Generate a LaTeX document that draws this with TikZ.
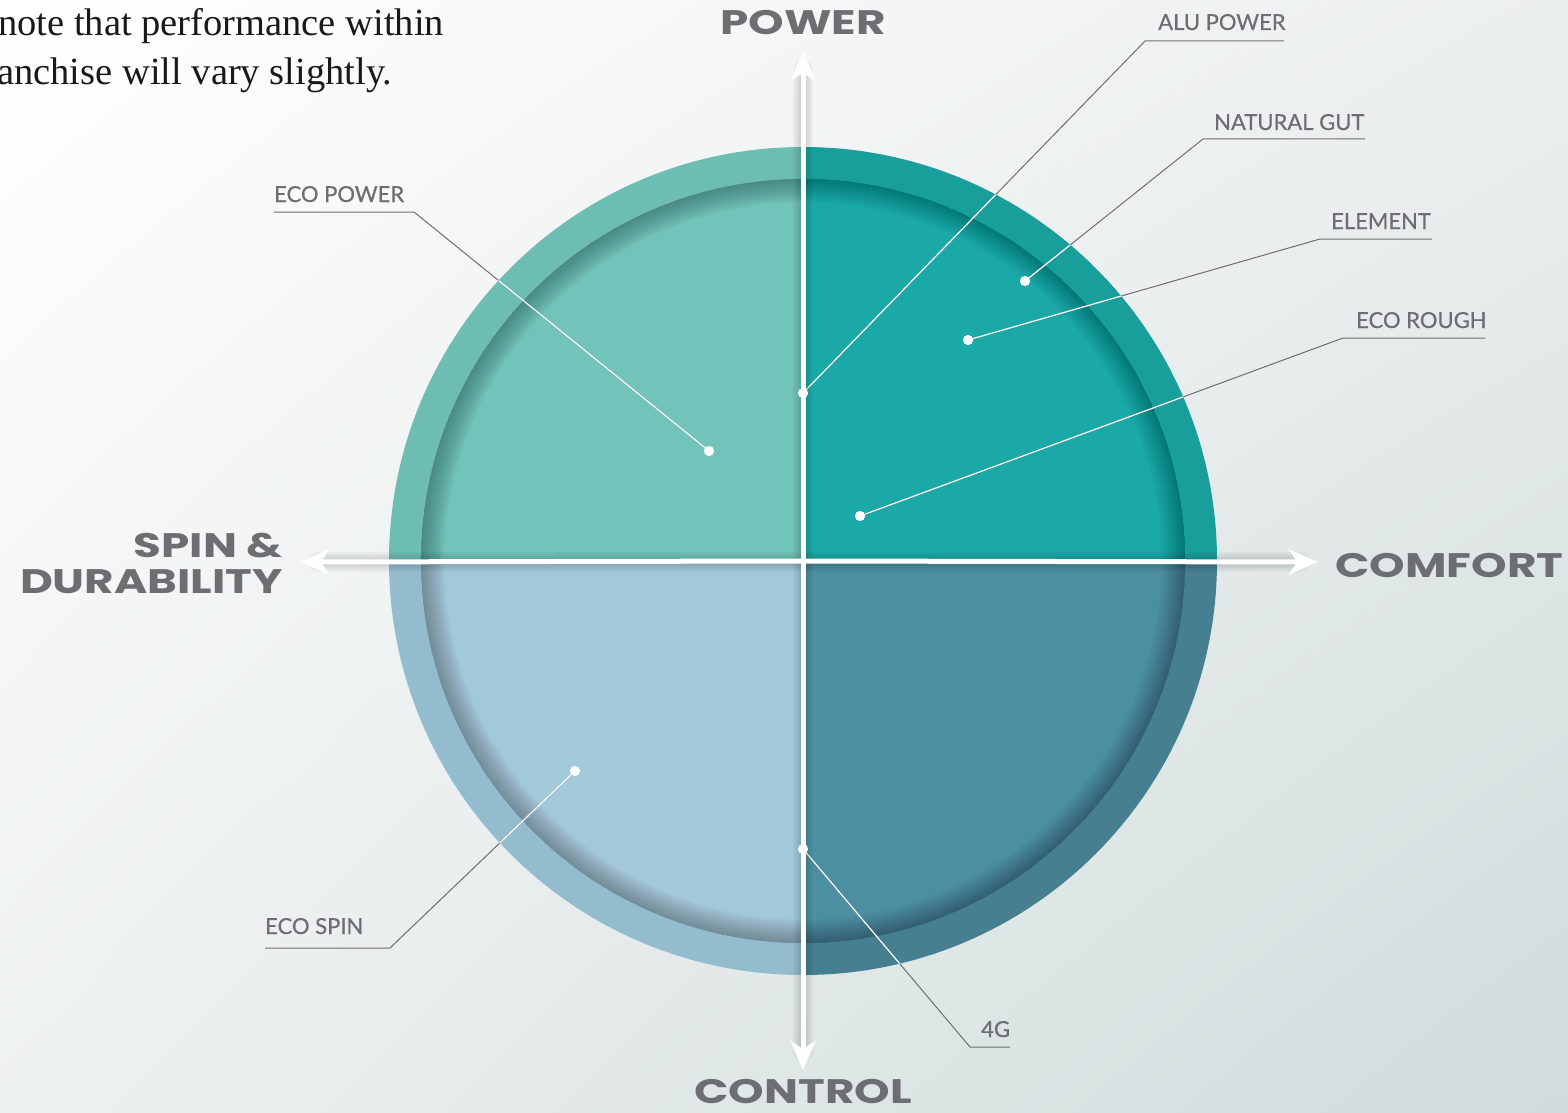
\documentclass[tikz,border=0pt]{standalone}
\usepackage{fontspec}
\setmainfont{Liberation Serif}
\newfontfamily\axisfont{Poppins}
\newfontfamily\labelfont{Lato}[FakeBold=0.6]
\usetikzlibrary{arrows.meta,shadings}
\definecolor{txtgray}{HTML}{6D6E71}
\definecolor{leadgray}{HTML}{6E6E70}
\definecolor{tlo}{HTML}{6DBDB2}
\definecolor{tli}{HTML}{72C3B9}
\definecolor{tro}{HTML}{189F9C}
\definecolor{tri}{HTML}{1BA9A8}
\definecolor{blo}{HTML}{94BCCF}
\definecolor{bli}{HTML}{A3C8DA}
\definecolor{bro}{HTML}{467F8F}
\definecolor{bri}{HTML}{4C8FA2}
\definecolor{bgtl}{HTML}{FFFFFF}
\definecolor{bgtr}{HTML}{ECEFEF}
\definecolor{bgbl}{HTML}{EEF1F1}
\definecolor{bgbr}{HTML}{D0DBDB}
\newcommand{\axtxt}[1]{\scalebox{1.33}[1]{#1}}
\tikzset{
  axislabel/.style={font=\axisfont\bfseries\fontsize{34}{36}\selectfont, text=txtgray, inner sep=0pt},
  smalllabel/.style={font=\labelfont\fontsize{22}{24}\selectfont, text=txtgray, inner sep=0pt, anchor=base west},
  introtext/.style={font=\fontsize{38.5}{50}\selectfont, text=black!90, inner sep=0pt, anchor=base west},
  leader/.style={draw=leadgray, line width=1pt},
  leaderin/.style={draw=white, line width=1.2pt},
  dotmark/.style={circle, fill=white, minimum size=10pt, inner sep=0pt},
  axisline/.style={draw=white, line width=5pt, -{Stealth[length=29pt, width=25pt, inset=8pt]}},
  axisshadow/.style={draw=black, draw opacity=0.035, line width=#1, line cap=round},
}
\begin{document}
\begin{tikzpicture}[x=1pt, y=-1pt]
\useasboundingbox (0,0) rectangle (1568,1113);
\shade[upper left=bgtl, upper right=bgtr, lower left=bgbl, lower right=bgbr] (0,0) rectangle (1568,1113);
% serif text (clipped on the left)
\begin{scope}
\clip (0,0) rectangle (1568,1113);
\node[introtext] (intro1) at (-2,36) {note that performance within};
\node[introtext] (intro2) at (-3,85) {anchise will vary slightly.};
\end{scope}
% centre
\coordinate (c) at (803,561);
% outer quadrants
\begin{scope}
\clip (c) circle (414pt);
\fill[tlo] (c) rectangle (380,140);
\fill[tro] (c) rectangle (1230,140);
\fill[blo] (c) rectangle (380,990);
\fill[bro] (c) rectangle (1230,990);
\end{scope}
% inner quadrants with inset shadow
\begin{scope}
\clip (c) circle (382pt);
\fill[tli] (c) rectangle (410,170);
\fill[tri] (c) rectangle (1200,170);
\fill[bli] (c) rectangle (410,960);
\fill[bri] (c) rectangle (1200,960);
\foreach \w in {2,4,...,48}{
  \draw[black, draw opacity=0.011, line width=\w pt] (c) circle (382pt);
}
\end{scope}
% leader coordinates and dots
\node[dotmark] (aluD) at (803,393) {};
\node[dotmark] (gutD) at (1025,281) {};
\node[dotmark] (eleD) at (968,340) {};
\node[dotmark] (rouD) at (860,516) {};
\node[dotmark] (epoD) at (709,451) {};
\node[dotmark] (spiD) at (575,771) {};
\node[dotmark] (fgD) at (803,849) {};
\coordinate (aluE) at (1145,41);  \coordinate (aluR) at (1284,41);
\coordinate (gutE) at (1203,139); \coordinate (gutR) at (1365,139);
\coordinate (eleE) at (1320,239); \coordinate (eleR) at (1432,239);
\coordinate (rouE) at (1343,338); \coordinate (rouR) at (1485,338);
\coordinate (epoE) at (414,212);  \coordinate (epoR) at (274,212);
\coordinate (spiE) at (390,948);  \coordinate (spiR) at (265,948);
\coordinate (fgE) at (970,1047);  \coordinate (fgR) at (1010,1047);
% gray leaders
\foreach \n in {alu,gut,ele,rou,epo,spi,fg}{
  \draw[leader] (\n R) -- (\n E) -- (\n D.center);
}
% white part inside the circle
\begin{scope}
\clip (c) circle (414pt);
\foreach \n in {alu,gut,ele,rou,epo,spi,fg}{
  \draw[leaderin] (\n E) -- (\n D.center);
}
\end{scope}
% axes
\coordinate (axL) at (300,562);
\coordinate (axR) at (1318,562);
\coordinate (axT) at (803,52);
\coordinate (axB) at (803,1070);
\foreach \w in {8,12,16,20}{
  \draw[axisshadow=\w pt] ([xshift=18pt]axL) -- ([xshift=-18pt]axR);
  \draw[axisshadow=\w pt] ([yshift=-18pt]axT) -- ([yshift=18pt]axB);
}
\draw[axisline] (c) -- (axL);
\draw[axisline] (c) -- (axR);
\draw[axisline] (c) -- (axT);
\draw[axisline] (c) -- (axB);
% dots on top
\foreach \n in {alu,gut,ele,rou,epo,spi,fg}{
  \fill[white] (\n D) circle (5pt);
}
% axis labels
\node[axislabel, anchor=base] (power) at (803,35) {\axtxt{POWER}};
\node[axislabel, anchor=base] (control) at (803,1103) {\axtxt{CONTROL}};
\node[axislabel, anchor=base west] (comfort) at (1335,577) {\axtxt{COMFORT}};
\node[axislabel, anchor=base east] (spin) at (283,557) {\axtxt{SPIN \&}};
\node[axislabel, anchor=base east] (dura) at (283,593) {\axtxt{DURABILITY}};
% small labels
\node[smalllabel] (aluT) at (1158,30) {ALU POWER};
\node[smalllabel] (gutT) at (1214,130) {NATURAL GUT};
\node[smalllabel] (eleT) at (1331,229) {ELEMENT};
\node[smalllabel] (rouT) at (1356,328) {ECO ROUGH};
\node[smalllabel] (epoT) at (274,202) {ECO POWER};
\node[smalllabel] (spiT) at (265,934) {ECO SPIN};
\node[smalllabel] (fgT) at (981,1037) {4G};
\end{tikzpicture}
\end{document}
